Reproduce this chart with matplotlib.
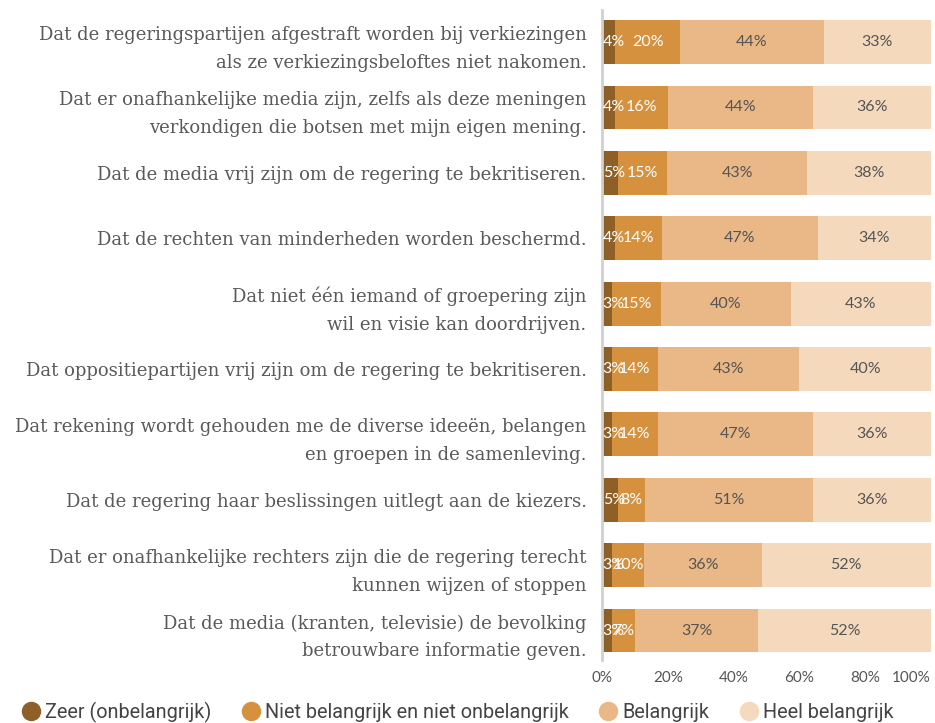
import matplotlib
matplotlib.use("Agg")
import matplotlib.pyplot as plt
from matplotlib.lines import Line2D
import numpy as np

categories = [
    "Dat de regeringspartijen afgestraft worden bij verkiezingen\nals ze verkiezingsbeloftes niet nakomen.",
    "Dat er onafhankelijke media zijn, zelfs als deze meningen\nverkondigen die botsen met mijn eigen mening.",
    "Dat de media vrij zijn om de regering te bekritiseren.",
    "Dat de rechten van minderheden worden beschermd.",
    "Dat niet één iemand of groepering zijn\nwil en visie kan doordrijven.",
    "Dat oppositiepartijen vrij zijn om de regering te bekritiseren.",
    "Dat rekening wordt gehouden me de diverse ideeën, belangen\nen groepen in de samenleving.",
    "Dat de regering haar beslissingen uitlegt aan de kiezers.",
    "Dat er onafhankelijke rechters zijn die de regering terecht\nkunnen wijzen of stoppen",
    "Dat de media (kranten, televisie) de bevolking\nbetrouwbare informatie geven.",
]
series_names = ["Zeer (onbelangrijk)", "Niet belangrijk en niet onbelangrijk",
                "Belangrijk", "Heel belangrijk"]
zeer = [4, 4, 5, 4, 3, 3, 3, 5, 3, 3]
niet = [20, 16, 15, 14, 15, 14, 14, 8, 10, 7]
belangrijk = [44, 44, 43, 47, 40, 43, 47, 51, 36, 37]
heel = [33, 36, 38, 34, 43, 40, 36, 36, 52, 52]
xticks = [0, 20, 40, 60, 80, 100]
xticklabels = ["0%", "20%", "40%", "60%", "80%", "100%"]

colors = ["#8f5f28", "#d5913d", "#e9b886", "#f5d9bd"]
text_colors = ["white", "white", "#555555", "#555555"]

W, H = 935, 723
fig = plt.figure(figsize=(W / 100, H / 100), dpi=100)
ax = fig.add_axes([602 / W, 1 - 660 / H, (931 - 602) / W, 650 / H])

data = np.array([zeer, niet, belangrijk, heel], dtype=float)
totals = data.sum(axis=0)
norm = data / totals * 100
y = np.arange(len(categories))
left = np.zeros(len(categories))
for k in range(4):
    ax.barh(y, norm[k], left=left, height=0.67, color=colors[k], linewidth=0)
    for i in range(len(categories)):
        val = int(data[k, i])
        cx = left[i] + norm[k, i] / 2
        ha = "center"
        if k == 0:
            cx = left[i] + 0.2
            ha = "left"
        ax.text(cx, y[i], f"{val}%", ha=ha, va="center", fontsize=11.5,
                color=text_colors[k], family="Lato")
    left += norm[k]

ax.set_xlim(0, 100)
ax.set_ylim(9.45, -0.49)
ax.set_yticks(y)
ax.set_yticklabels(categories, fontsize=13.0, color="#5a5a5a",
                   family="DejaVu Serif", linespacing=1.7)
ax.tick_params(axis="y", length=0, pad=11)
ax.set_xticks(xticks)
ax.set_xticklabels(xticklabels, fontsize=11, color="#555555", family="Lato")
ax.get_xticklabels()[-1].set_ha("right")
ax.tick_params(axis="x", length=0, pad=8)
for s in ["top", "right", "bottom"]:
    ax.spines[s].set_visible(False)
ax.spines["left"].set_color("#d0d0d0")
ax.spines["left"].set_linewidth(2)

handles = [Line2D([], [], marker="o", ls="", markersize=13, color=c) for c in colors]
fig.legend(handles, series_names, loc="center", bbox_to_anchor=(0.489, 1 - 712 / H),
           ncol=4, frameon=False, handlelength=1.0, handletextpad=0.2,
           columnspacing=1.5, borderpad=0.1,
           prop={"family": "Roboto", "size": 14.3}, labelcolor="#444444")

fig.savefig("out.png", dpi=100)
